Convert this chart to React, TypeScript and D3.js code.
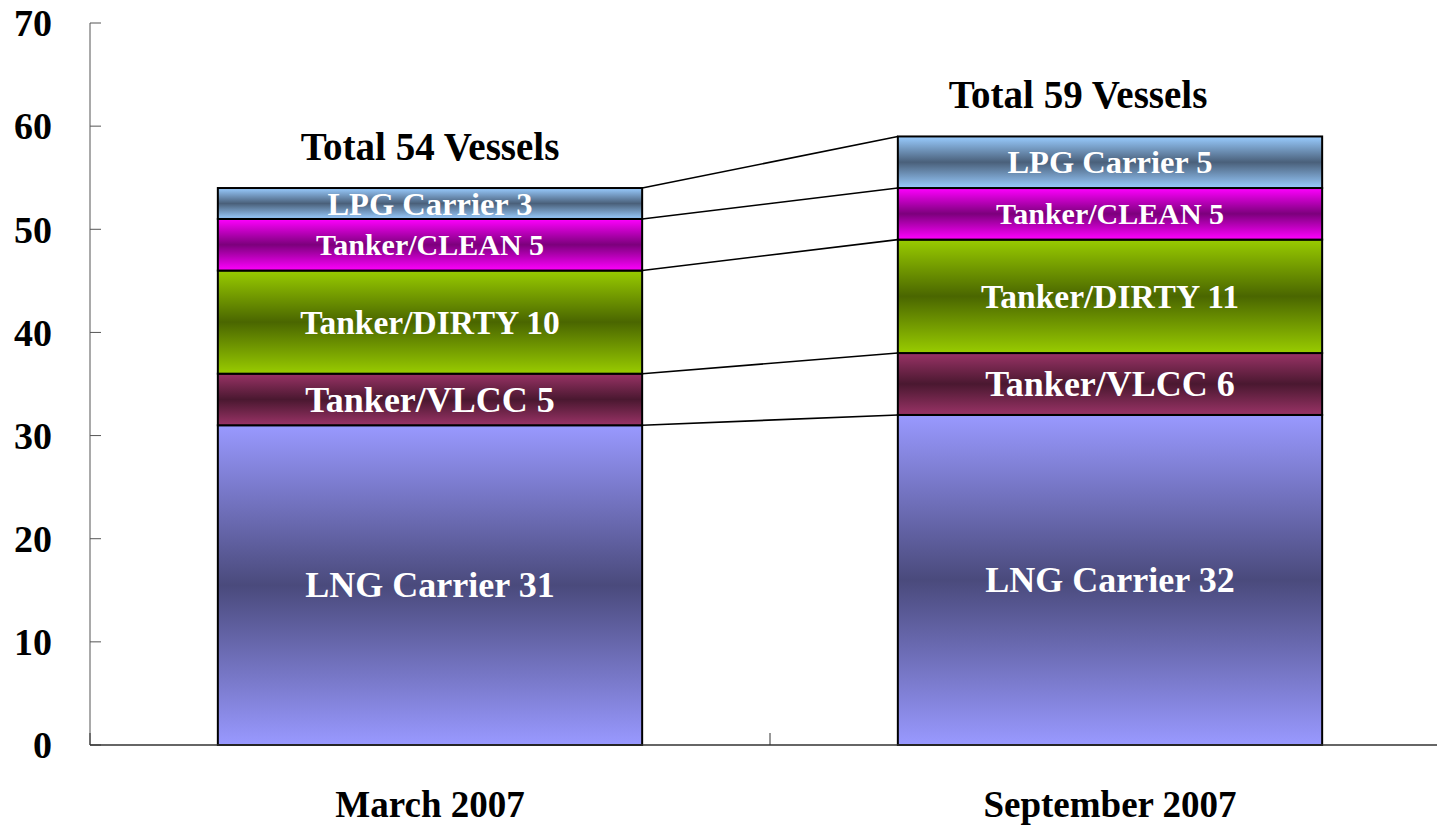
import React, { useRef, useEffect } from "react";
import * as d3 from "d3";

const periods = ["March 2007", "September 2007"];
const vesselTypes = ["LNG Carrier", "Tanker/VLCC", "Tanker/DIRTY", "Tanker/CLEAN", "LPG Carrier"];
const march2007 = [31, 5, 10, 5, 3];
const september2007 = [32, 6, 11, 5, 5];
const yTicks = [0, 10, 20, 30, 40, 50, 60, 70];

// light edge colour, dark middle colour for each vessel type
const edgeColors = ["#9999ff", "#993366", "#99cc00", "#ff00ff", "#99ccff"];
const midColors = ["#4a4a7c", "#4a1830", "#4a6600", "#7c007c", "#4a607a"];
// label size per vessel type (the labels were not all set the same)
const labelSizes = [36, 36, 33.5, 30, 32.5];

const App = () => {
  const svgRef = useRef<SVGSVGElement>(null);

  useEffect(() => {
    const w = 1437;
    const h = 825;
    const margin = { top: 23, bottom: 80, left: 90, right: -13 };
    const svg = d3.select(svgRef.current);
    svg.selectAll("*").remove();
    svg.attr("width", w).attr("height", h).attr("viewBox", [0, 0, w, h] as any);

    const font = "'Liberation Serif', 'Times New Roman', serif";
    const series = [march2007, september2007];

    const xScale = d3
      .scaleBand()
      .domain(periods)
      .range([margin.left, w - margin.right])
      .paddingInner(0.376)
      .paddingOuter(0.188);
    const yScale = d3.scaleLinear().domain([0, 70]).range([h - margin.bottom, margin.top]);

    const defs = svg.append("defs");
    vesselTypes.forEach((t, i) => {
      const g = defs
        .append("linearGradient")
        .attr("id", "grad" + i)
        .attr("x1", 0)
        .attr("y1", 0)
        .attr("x2", 0)
        .attr("y2", 1);
      g.append("stop").attr("offset", "0%").attr("stop-color", edgeColors[i]);
      g.append("stop").attr("offset", "50%").attr("stop-color", midColors[i]);
      g.append("stop").attr("offset", "100%").attr("stop-color", edgeColors[i]);
    });

    // y axis
    const yAxis = svg.append("g").attr("transform", `translate(${margin.left},0)`);
    yAxis
      .append("line")
      .attr("y1", yScale(70))
      .attr("y2", yScale(0))
      .attr("stroke", "#555")
      .attr("stroke-width", 1);
    yAxis
      .selectAll("line.tick")
      .data(yTicks)
      .join("line")
      .attr("class", "tick")
      .attr("x1", 0)
      .attr("x2", 11)
      .attr("y1", (d) => yScale(d))
      .attr("y2", (d) => yScale(d))
      .attr("stroke", "#555");
    yAxis
      .selectAll("text")
      .data(yTicks)
      .join("text")
      .attr("x", -38)
      .attr("y", (d) => yScale(d))
      .attr("dy", "0.35em")
      .attr("text-anchor", "end")
      .attr("font-family", font)
      .attr("font-weight", "bold")
      .attr("font-size", 38)
      .text((d) => d);

    // stacked segments
    const stacked = series.map((vals) => {
      let acc = 0;
      return vals.map((v, i) => {
        const s = { type: vesselTypes[i], value: v, y0: acc, y1: acc + v, i };
        acc += v;
        return s;
      });
    });

    // connector lines between the bars
    const x0 = xScale(periods[0])! + xScale.bandwidth();
    const x1 = xScale(periods[1])!;
    svg
      .append("g")
      .selectAll("line")
      .data(stacked[0].map((s, i) => [s.y1, stacked[1][i].y1]))
      .join("line")
      .attr("x1", x0)
      .attr("x2", x1)
      .attr("y1", (d) => yScale(d[0]))
      .attr("y2", (d) => yScale(d[1]))
      .attr("stroke", "#000")
      .attr("stroke-width", 1.6);

    stacked.forEach((segs, p) => {
      const g = svg.append("g");
      const bx = xScale(periods[p])!;
      const bw = xScale.bandwidth();
      g.selectAll("rect")
        .data(segs)
        .join("rect")
        .attr("x", bx)
        .attr("y", (d) => yScale(d.y1))
        .attr("width", bw)
        .attr("height", (d) => yScale(d.y0) - yScale(d.y1))
        .attr("fill", (d) => `url(#grad${d.i})`)
        .attr("stroke", "#000")
        .attr("stroke-width", 2);
      g.selectAll("text.seg")
        .data(segs)
        .join("text")
        .attr("class", "seg")
        .attr("x", bx + bw / 2)
        .attr("y", (d) => yScale((d.y0 + d.y1) / 2))
        .attr("dy", "0.34em")
        .attr("text-anchor", "middle")
        .attr("fill", "#fff")
        .attr("font-family", font)
        .attr("font-weight", "bold")
        .attr("font-size", (d) => labelSizes[d.i])
        .text((d) => `${d.type} ${d.value}`);
      const total = d3.sum(segs, (d) => d.value);
      g.append("text")
        .attr("x", bx + bw / 2 + (p === 1 ? -32 : 0))
        .attr("y", yScale(total) - 28)
        .attr("text-anchor", "middle")
        .attr("font-family", font)
        .attr("font-weight", "bold")
        .attr("font-size", 39)
        .text(`Total ${total} Vessels`);
    });

    // x axis
    const xAxisY = yScale(0);
    const xg = svg.append("g");
    xg.append("line")
      .attr("x1", margin.left)
      .attr("x2", w - margin.right)
      .attr("y1", xAxisY)
      .attr("y2", xAxisY)
      .attr("stroke", "#333")
      .attr("stroke-width", 1.5);
    const boundaries = [margin.left, margin.left + xScale.step(), margin.left + 2 * xScale.step()];
    xg.selectAll("line.tick")
      .data(boundaries)
      .join("line")
      .attr("class", "tick")
      .attr("x1", (d) => d)
      .attr("x2", (d) => d)
      .attr("y1", xAxisY)
      .attr("y2", xAxisY - 12)
      .attr("stroke", "#333");
    xg.selectAll("text")
      .data(periods)
      .join("text")
      .attr("x", (d) => xScale(d)! + xScale.bandwidth() / 2)
      .attr("y", 817)
      .attr("text-anchor", "middle")
      .attr("font-family", font)
      .attr("font-weight", "bold")
      .attr("font-size", 37)
      .text((d) => d);
  }, []);

  return (
    <div style={{ position: "absolute", left: 0, top: 0 }}>
      <svg ref={svgRef} style={{ display: "block" }}></svg>
    </div>
  );
};

export default App;
